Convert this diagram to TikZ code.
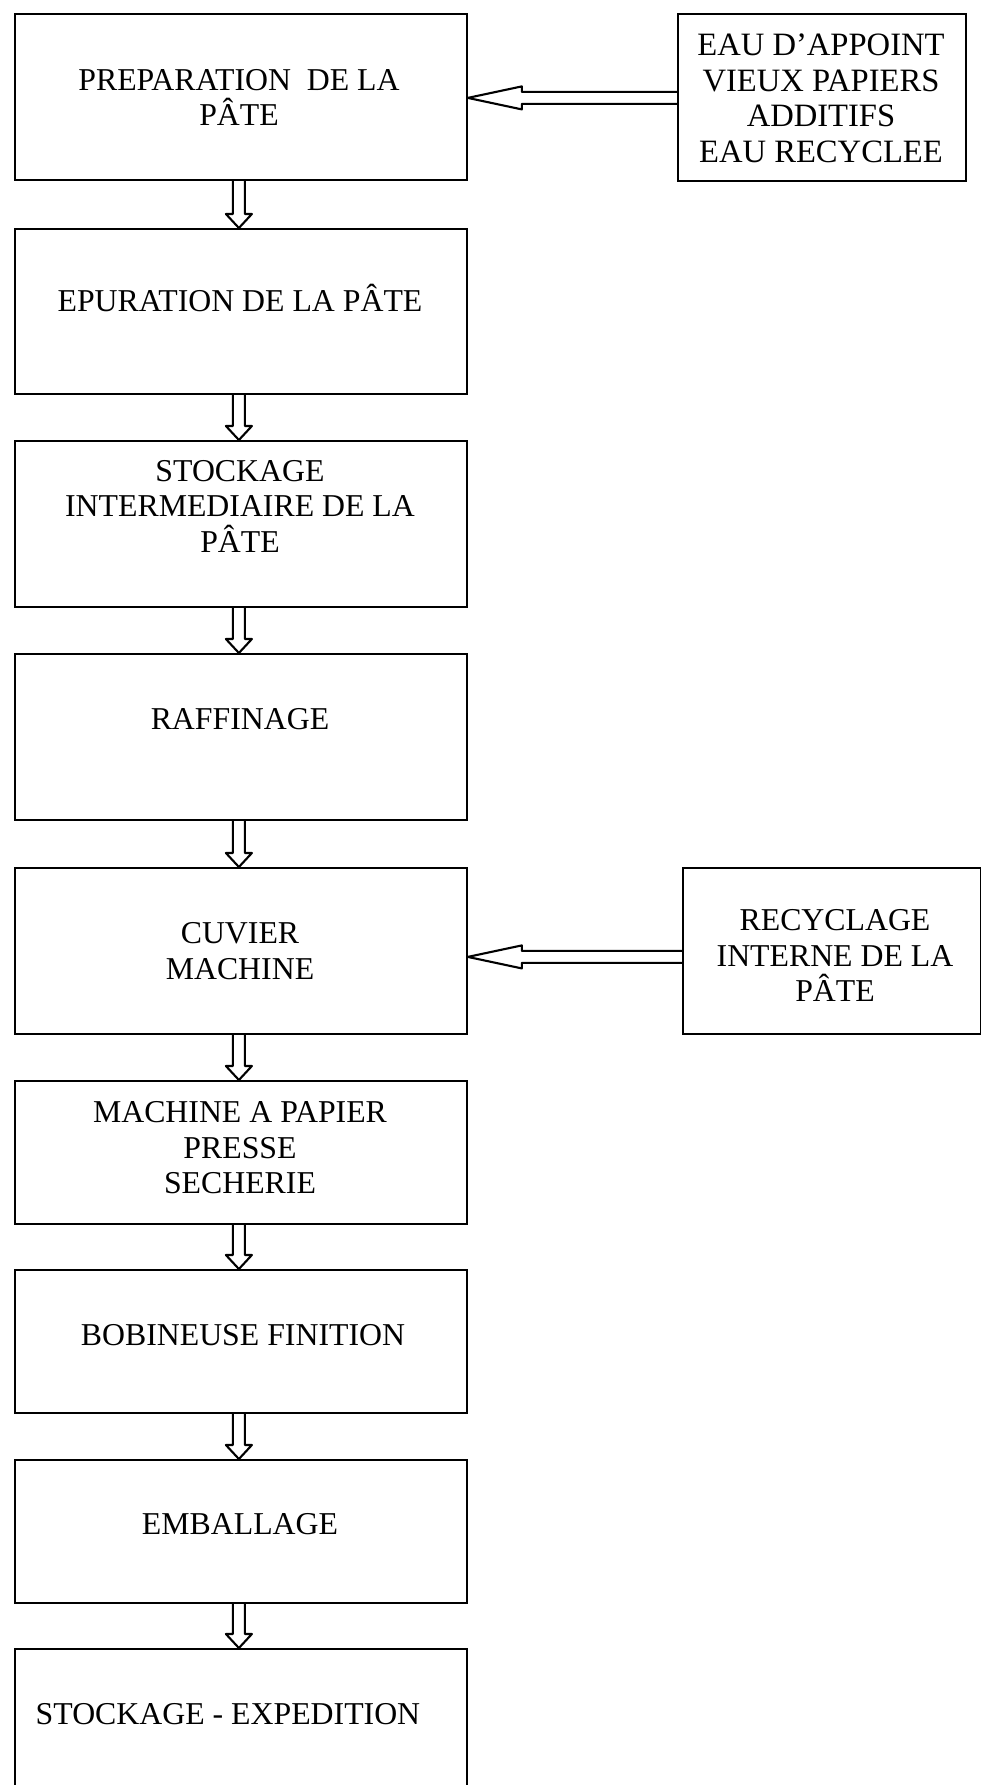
\documentclass[tikz,border=0pt]{standalone}
\usepackage{fontspec}
\setmainfont{Liberation Serif}
\usetikzlibrary{calc}
\newcommand\myvconn[2]{%
  \draw[conn] ($(#1.south)+(-8,0)$) -- ($(#2.north)+(-8,-14)$) -- ($(#2.north)+(-15,-14)$)
    -- ($(#2.north)+(-2,0)$) -- ($(#2.north)+(11,-14)$) -- ($(#2.north)+(4,-14)$) -- ($(#1.south)+(4,0)$);}
\newcommand\myhconn[3]{%
  \draw[conn] ($(#1.west |- #2.east)+(0,#3-6)$) -- ($(#2.east)+(54,#3-6)$) -- ($(#2.east)+(54,#3-11.5)$)
    -- ($(#2.east)+(0,#3)$) -- ($(#2.east)+(54,#3+11.5)$) -- ($(#2.east)+(54,#3+6)$) -- ($(#1.west |- #2.east)+(0,#3+6)$);}
\begin{document}
\begin{tikzpicture}[x=1pt,y=-1pt,
  box/.style={draw,line width=1.8pt,rectangle,inner sep=0pt,anchor=north west,fill=white},
  lbl/.style={align=center,font=\fontsize{31.8}{35.5}\selectfont,inner sep=0pt},
  conn/.style={draw,line width=2.1pt,line join=round}]
\useasboundingbox (0,0) rectangle (981,1785);
\fill[white] (0,0) rectangle (981,1785);
% main boxes
\node[box,minimum width=452pt,minimum height=166pt] (b1) at (14,13) {};
\node[box,minimum width=452pt,minimum height=165pt] (b2) at (14,228) {};
\node[box,minimum width=452pt,minimum height=166pt] (b3) at (14,440) {};
\node[box,minimum width=452pt,minimum height=166pt] (b4) at (14,653) {};
\node[box,minimum width=452pt,minimum height=166pt] (b5) at (14,867) {};
\node[box,minimum width=452pt,minimum height=143pt] (b6) at (14,1080) {};
\node[box,minimum width=452pt,minimum height=143pt] (b7) at (14,1269) {};
\node[box,minimum width=452pt,minimum height=143pt] (b8) at (14,1459) {};
\node[box,minimum width=452pt,minimum height=200pt] (b9) at (14,1648) {};
% side boxes
\node[box,minimum width=288pt,minimum height=167pt] (s1) at (677,13) {};
\node[box,minimum width=298pt,minimum height=166pt] (s2) at (682,867) {};
% labels
\node[lbl] (t1) at (239,97.5) {PREPARATION~~DE LA\\PÂTE};
\node[lbl] (t2) at (240,298) {EPURATION DE LA PÂTE};
\node[lbl] (t3) at (240,506) {STOCKAGE\\INTERMEDIAIRE DE LA\\PÂTE};
\node[lbl] (t4) at (240,719) {RAFFINAGE};
\node[lbl] (t5) at (240,951) {CUVIER\\MACHINE};
\node[lbl] (t6) at (240,1148) {MACHINE A PAPIER\\PRESSE\\SECHERIE};
\node[lbl] (t7) at (243,1335) {BOBINEUSE FINITION};
\node[lbl] (t8) at (240,1524) {EMBALLAGE};
\node[lbl] (t9) at (228,1714) {STOCKAGE - EXPEDITION};
\node[lbl,font=\fontsize{32.6}{35.5}\selectfont] (u1) at (821,98.5) {EAU D’APPOINT\\VIEUX PAPIERS\\ADDITIFS\\EAU RECYCLEE};
\node[lbl] (u2) at (835,955.5) {RECYCLAGE\\INTERNE DE LA\\PÂTE};
% connectors
\myvconn{b1}{b2}
\myvconn{b2}{b3}
\myvconn{b3}{b4}
\myvconn{b4}{b5}
\myvconn{b5}{b6}
\myvconn{b6}{b7}
\myvconn{b7}{b8}
\myvconn{b8}{b9}
\myhconn{s1}{b1}{1}
\myhconn{s2}{b5}{6}
\end{tikzpicture}
\end{document}
